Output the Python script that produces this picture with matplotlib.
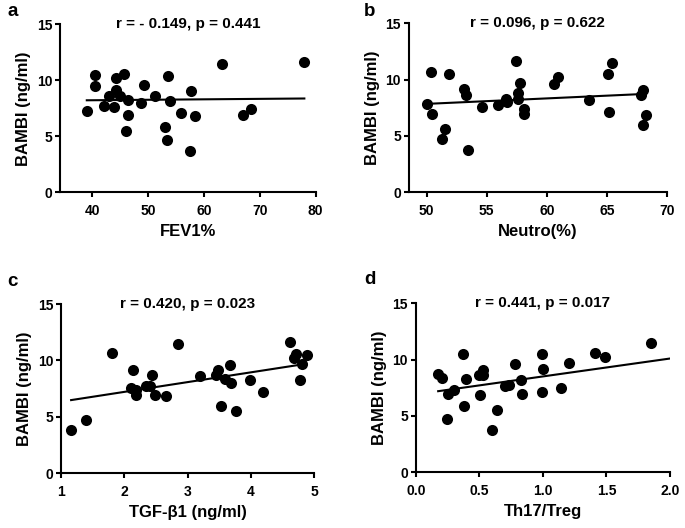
import matplotlib
matplotlib.use("Agg")
import matplotlib.pyplot as plt

plt.rcParams['font.family'] = ['Liberation Sans', 'DejaVu Sans']
plt.rcParams['font.weight'] = 'bold'

# Panel a: FEV1% vs BAMBI
fev1 = [39.0, 40.4, 40.4, 42.1, 43.0, 43.9, 44.3, 44.3, 45.0, 45.7, 46.3, 46.3, 46.0, 48.8,
        49.3, 51.2, 53.6, 54.0, 53.1, 53.3, 55.9, 57.7, 58.4, 57.5, 63.2, 67.0, 68.4, 78.0]
bambi_a = [7.29, 10.45, 9.52, 7.71, 8.63, 7.59, 10.21, 9.14, 8.63, 10.57, 8.24, 6.90, 5.48, 8.0,
           9.61, 8.6, 10.39, 8.18, 5.86, 4.64, 7.08, 9.08, 6.82, 3.69, 11.43, 6.88, 7.41, 11.61]
fit_a_x = [39.0, 78.0]
fit_a_y = [8.22, 8.38]

# Panel b: Neutro(%) vs BAMBI
neutro = [50.0, 50.36, 50.44, 51.25, 51.5, 51.86, 53.08, 53.3, 53.47, 54.6, 55.9, 56.6, 56.7,
          57.47, 57.6, 57.6, 57.8, 58.1, 58.1, 60.6, 60.9, 63.5, 65.1, 65.4, 65.2, 67.86, 68.05,
          68.0, 68.25]
bambi_b = [7.81, 10.65, 6.98, 4.70, 5.59, 10.50, 9.17, 8.64, 3.76, 7.57, 7.72, 8.25, 8.05,
           11.63, 8.79, 8.25, 9.73, 7.43, 6.98, 9.59, 10.27, 8.2, 10.50, 11.5, 7.16, 8.64, 9.11,
           5.95, 6.83]
fit_b_x = [50.0, 67.9]
fit_b_y = [7.85, 8.72]

# Panel c: TGF-b1 vs BAMBI
tgf = [1.16, 1.39, 1.80, 2.10, 2.14, 2.18, 2.18, 2.34, 2.40, 2.43, 2.49, 2.66, 2.84, 3.20,
       3.44, 3.48, 3.53, 3.59, 3.67, 3.69, 3.77, 3.98, 4.19, 4.62, 4.68, 4.71, 4.81, 4.77, 4.88]
bambi_c = [3.82, 4.73, 10.62, 7.54, 9.14, 7.37, 6.95, 7.75, 7.75, 8.73, 6.95, 6.86, 11.45, 8.61,
           8.70, 9.14, 5.95, 8.34, 9.62, 8.02, 5.53, 8.22, 7.16, 11.66, 10.21, 10.53, 9.67, 8.22,
           10.50]
fit_c_x = [1.16, 4.81]
fit_c_y = [6.48, 9.65]

# Panel d: Th17/Treg vs BAMBI
th17 = [0.176, 0.204, 0.246, 0.257, 0.30, 0.37, 0.377, 0.396, 0.506, 0.495, 0.53, 0.53, 0.598,
        0.64, 0.70, 0.73, 0.78, 0.826, 0.836, 0.993, 1.00, 0.993, 1.145, 1.206, 1.41, 1.49, 1.853]
bambi_d = [8.73, 8.34, 4.73, 6.95, 7.34, 10.50, 5.92, 8.25, 6.89, 8.64, 9.08, 8.64, 3.79,
           5.53, 7.69, 7.75, 9.59, 8.22, 6.98, 10.47, 9.14, 7.16, 7.51, 9.67, 10.56, 10.21, 11.51]
fit_d_x = [0.176, 2.0]
fit_d_y = [7.2, 10.1]

panels = [
    dict(x=fev1, y=bambi_a, fx=fit_a_x, fy=fit_a_y, xlabel='FEV1%', label='a',
         text='r = - 0.149, p = 0.441', xlim=(34.2, 80), xticks=[40, 50, 60, 70, 80],
         xticklabels=['40', '50', '60', '70', '80'],
         rect=[0.0876, 0.6358, 0.373, 0.318], lab_xy=(7, 11)),
    dict(x=neutro, y=bambi_b, fx=fit_b_x, fy=fit_b_y, xlabel='Neutro(%)', label='b',
         text='r = 0.096, p = 0.622', xlim=(48.5, 70), xticks=[50, 55, 60, 65, 70],
         xticklabels=['50', '55', '60', '65', '70'],
         rect=[0.5966, 0.6358, 0.377, 0.32], lab_xy=(364, 11)),
    dict(x=tgf, y=bambi_c, fx=fit_c_x, fy=fit_c_y, xlabel='TGF-β1 (ng/ml)', label='c',
         text='r = 0.420, p = 0.023', xlim=(1, 5), xticks=[1, 2, 3, 4, 5],
         xticklabels=['1', '2', '3', '4', '5'],
         rect=[0.089, 0.104, 0.370, 0.32], lab_xy=(7, 281)),
    dict(x=th17, y=bambi_d, fx=fit_d_x, fy=fit_d_y, xlabel='Th17/Treg', label='d',
         text='r = 0.441, p = 0.017', xlim=(0, 2), xticks=[0.0, 0.5, 1.0, 1.5, 2.0],
         xticklabels=['0.0', '0.5', '1.0', '1.5', '2.0'],
         rect=[0.607, 0.1055, 0.371, 0.32], lab_xy=(364, 280)),
]

fig = plt.figure(figsize=(6.85, 5.28), dpi=100)
W, H = 685, 528
for p in panels:
    ax = fig.add_axes(p['rect'])
    ax.scatter(p['x'], p['y'], s=64, color='black', zorder=3, clip_on=False, linewidths=0)
    ax.plot(p['fx'], p['fy'], color='black', lw=1.5, zorder=2)
    ax.set_xlim(*p['xlim'])
    ax.set_ylim(0, 15)
    ax.set_xticks(p['xticks'])
    ax.set_xticklabels(p['xticklabels'])
    ax.set_yticks([0, 5, 10, 15])
    for s in ['top', 'right']:
        ax.spines[s].set_visible(False)
    for s in ['left', 'bottom']:
        ax.spines[s].set_linewidth(1.5)
    ax.tick_params(width=1.5, length=3.6, labelsize=10)
    ax.tick_params(axis='x', pad=5)
    ax.tick_params(axis='y', pad=2)
    for t in ax.get_xticklabels() + ax.get_yticklabels():
        t.set_fontweight('bold')
    ax.set_xlabel(p['xlabel'], fontsize=12, fontweight='bold', labelpad=4)
    ax.set_ylabel('BAMBI (ng/ml)', fontsize=12, fontweight='bold', labelpad=4)
    ax.text(0.5, 1.0, p['text'], transform=ax.transAxes, ha='center', va='center',
            fontsize=11, fontweight='bold')
    fig.text(p['lab_xy'][0] / W, 1 - p['lab_xy'][1] / H, p['label'], ha='left', va='center',
             fontsize=13.5, fontweight='bold')

fig.savefig('out.png', dpi=100)
